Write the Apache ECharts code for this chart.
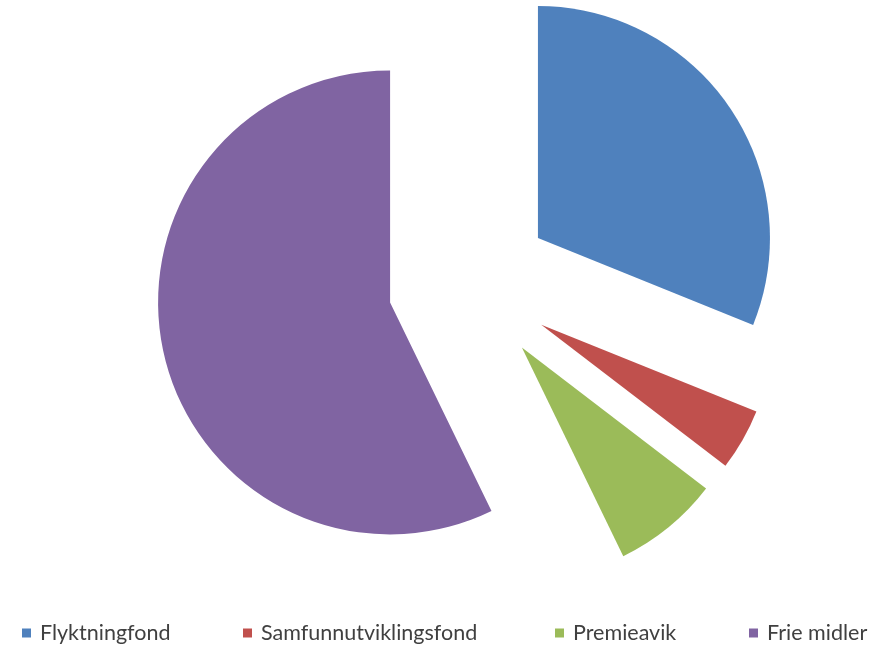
<!DOCTYPE html>
<html><head><meta charset="utf-8">
<script src="https://cdn.jsdelivr.net/npm/echarts@6/dist/echarts.min.js"></script>
<style>html,body{margin:0;padding:0;background:#fff}#c{width:886px;height:648px}</style>
</head><body><div id="c"></div>
<script>
const categories = ['Flyktningfond', 'Samfunnutviklingsfond', 'Premieavik', 'Frie midler'];
const values = [31.1, 4.3, 7.4, 57.2];
const colors = ['#4F81BD', '#C0504D', '#9BBB59', '#8064A2'];
const legendLeft = [22, 243, 555, 749];

const chart = echarts.init(document.getElementById('c'), null, {renderer: 'canvas'});
const legends = categories.map((n, i) => ({
  data: [n], left: legendLeft[i], top: 622, padding: 0, itemWidth: 9, itemHeight: 9, itemGap: 0,
  icon: 'rect', selectedMode: false,
  textStyle: {fontFamily: 'Lato', fontSize: 21.5, color: '#404040', padding: [0, 0, 0, 4]}
}));
chart.setOption({
  animation: false,
  color: colors,
  legend: legends,
  series: [{
    type: 'pie',
    center: [470, 284],
    radius: [0, 232],
    startAngle: 90,
    clockwise: true,
    selectedMode: 'multiple',
    selectedOffset: 82,
    label: {show: false},
    labelLine: {show: false},
    emphasis: {disabled: true},
    itemStyle: {borderWidth: 0},
    data: categories.map((n, i) => ({name: n, value: values[i], selected: true}))
  }]
});
</script></body></html>
